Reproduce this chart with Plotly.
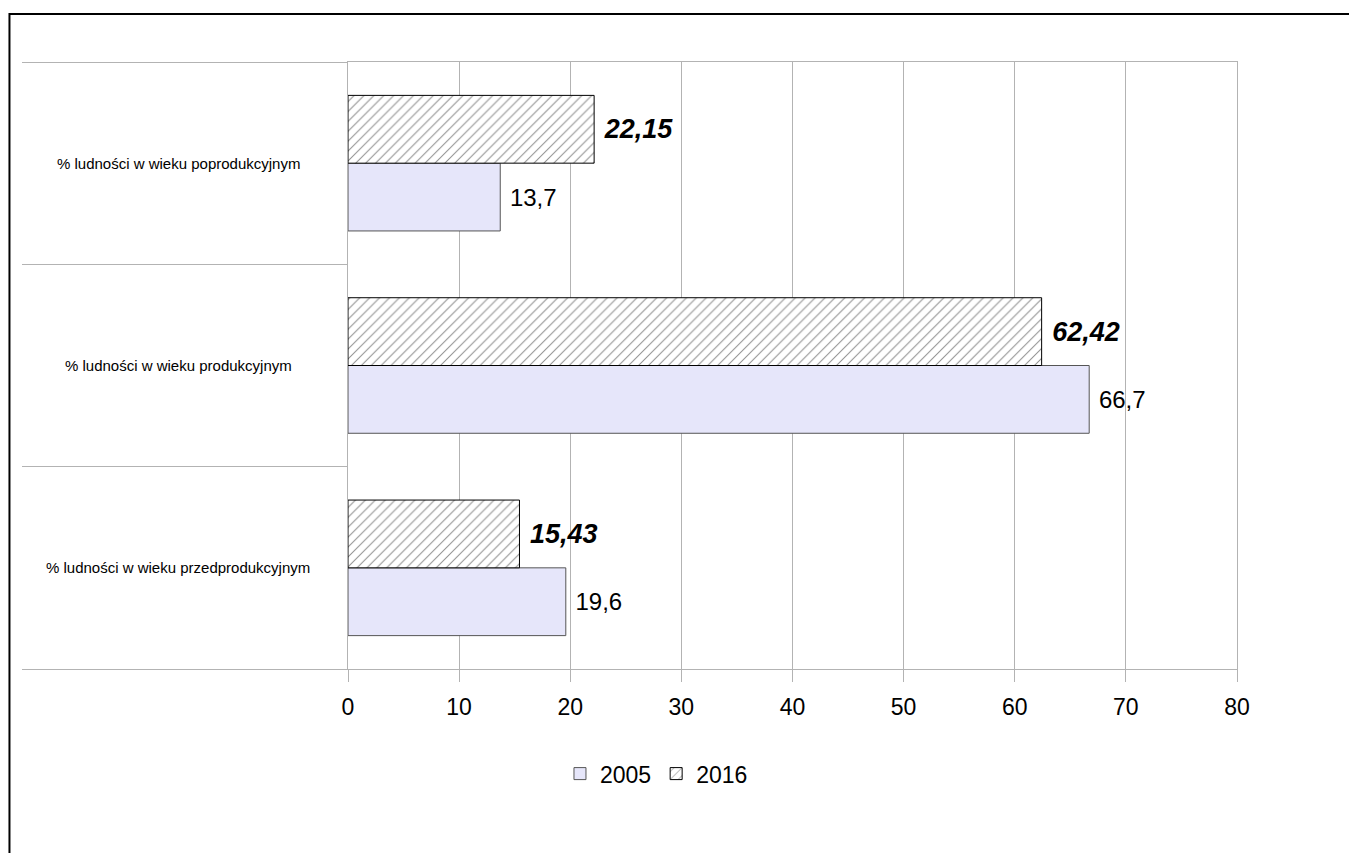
import plotly.graph_objects as go

# Age-structure categories (bottom to top) and shares in percent
categories = [
    "% ludności w wieku przedprodukcyjnym",
    "% ludności w wieku produkcyjnym",
    "% ludności w wieku poprodukcyjnym",
]
values_2005 = [19.6, 66.7, 13.7]
values_2016 = [15.43, 62.42, 22.15]
x_ticks = [0, 10, 20, 30, 40, 50, 60, 70, 80]

FONT = "Liberation Sans, Arial, sans-serif"
GRID = "#b3b3b3"
PAD = "\u00a0"

fig = go.Figure()

fig.add_trace(go.Bar(
    name="2005",
    y=categories,
    x=values_2005,
    orientation="h",
    marker=dict(color="#e6e6fa", line=dict(color="#555555", width=1)),
    text=[PAD + f"{v:g}".replace(".", ",") for v in values_2005],
    textposition="outside",
    textfont=dict(family=FONT, size=24, color="black"),
    cliponaxis=False,
))

fig.add_trace(go.Bar(
    name="2016",
    y=categories,
    x=values_2016,
    orientation="h",
    marker=dict(
        color="white",
        line=dict(color="black", width=1),
        pattern=dict(shape="/", fgcolor="#222222", bgcolor="white",
                     size=7, solidity=0.15),
    ),
    text=[PAD + f"<b><i>{v:.2f}</i></b>".replace(".", ",") for v in values_2016],
    textposition="outside",
    textfont=dict(family=FONT, size=27, color="black"),
    cliponaxis=False,
))

# Category labels centred in the band left of the plot
for cat in categories:
    fig.add_annotation(
        x=-0.191, xref="paper", y=cat, yref="y",
        text=cat, showarrow=False, xanchor="center", yanchor="middle",
        font=dict(family=FONT, size=15, color="black"),
    )

# Outer chart frame
fig.add_shape(
    type="rect", xref="paper", yref="paper",
    x0=-0.3808, x1=1.3, y0=-0.4, y1=1.079,
    line=dict(color="black", width=2), fillcolor="rgba(0,0,0,0)",
    layer="below",
)

fig.update_layout(
    width=1349, height=853,
    margin=dict(l=348, r=112, t=62, b=184),
    paper_bgcolor="white", plot_bgcolor="white",
    barmode="group", bargap=0.33, bargroupgap=0,
    showlegend=True,
    legend=dict(
        orientation="h", x=0.347, xanchor="center", y=-0.137, yanchor="top",
        font=dict(family=FONT, size=23, color="black"),
        itemwidth=30, traceorder="normal",
    ),
    xaxis=dict(
        range=[0, 80], tickvals=x_ticks,
        showgrid=True, gridcolor=GRID, gridwidth=1,
        zeroline=False,
        showline=True, linecolor=GRID, mirror=True,
        ticks="outside", ticklen=12, tickcolor=GRID,
        ticklabelstandoff=5,
        tickfont=dict(family=FONT, size=23, color="black"),
        fixedrange=True,
    ),
    yaxis=dict(
        type="category", categoryorder="array", categoryarray=categories,
        showgrid=False, zeroline=False,
        showline=True, linecolor=GRID, mirror=True,
        ticks="outside", tickson="boundaries", ticklen=325, tickcolor=GRID,
        showticklabels=False,
        fixedrange=True,
    ),
)

fig.write_html("out.html")
